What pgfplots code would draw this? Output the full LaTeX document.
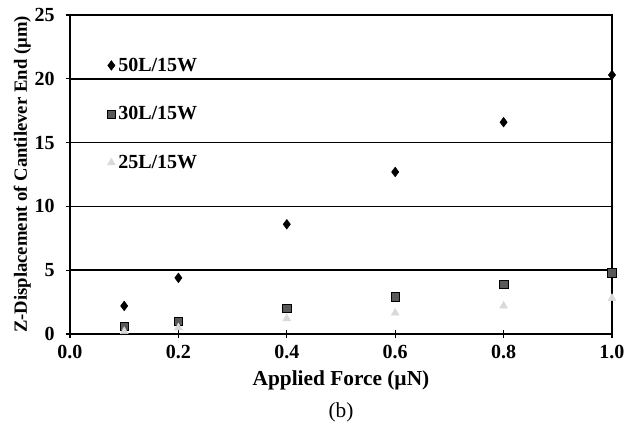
\documentclass[border=0pt]{standalone}
\usepackage{pgfplots}
\pgfplotsset{compat=1.18}
\usepackage{fontspec}
\setmainfont{Liberation Serif}

\begin{document}
\begin{tikzpicture}
\begin{axis}[
    scale only axis,
    width=406.5pt, height=239.25pt,
    xmin=0, xmax=1, ymin=0, ymax=25,
    xtick={0,0.2,0.4,0.6,0.8,1.0},
    ytick={0,5,10,15,20,25},
    xtick pos=bottom, ytick pos=left,
    xticklabel style={yshift=-2pt, /pgf/number format/fixed, /pgf/number format/fixed zerofill, /pgf/number format/precision=1},
    /pgf/number format/assume math mode=true,
    ticklabel style={font=\fontsize{15}{17}\selectfont\bfseries},
    yticklabel style={xshift=-5pt},
    xlabel style={font=\fontsize{16}{18}\selectfont\bfseries, yshift=-2pt},
    ylabel style={font=\fontsize{14}{16}\selectfont\bfseries, yshift=-4pt},
    xlabel={Applied Force (µN)},
    ylabel={Z-Displacement of Cantilever End (µm)},
    tick align=center,
    major tick length=6pt,
    tick style={black, line width=0.9pt},
    ymajorgrids,
    grid style={black, line width=1.3pt},
    axis line style={line width=1.7pt},
    legend style={at={(0.068,0.875)}, anchor=north west, draw=none, fill=none,
        font=\fontsize{15}{17}\selectfont\bfseries, row sep=21pt,
        inner sep=0pt},
    legend cell align=left,
    legend image code/.code={\draw[#1] plot coordinates {(0.05cm,0cm)};},
    clip=false,
]
\addplot[only marks, mark=diamond*, mark size=3.6pt, black] coordinates {
    (0.1,2.2) (0.2,4.4) (0.4,8.6) (0.6,12.7) (0.8,16.6) (1.0,20.3)
};
\addlegendentry{50L/15W}
\addplot[only marks, mark=square*, mark size=3.2pt, draw=black, fill=black!65] coordinates {
    (0.1,0.6) (0.2,1.0) (0.4,2.0) (0.6,2.9) (0.8,3.9) (1.0,4.8)
};
\addlegendentry{30L/15W}
\addplot[only marks, mark=triangle*, mark size=3.4pt, draw=black!15, fill=black!15] coordinates {
    (0.1,0.2) (0.2,0.5) (0.4,1.2) (0.6,1.65) (0.8,2.2) (1.0,2.8)
};
\addlegendentry{25L/15W}
\node[font=\fontsize{16}{18}\selectfont, anchor=north] at (rel axis cs:0.5,0) [yshift=-48pt] {(b)};
\end{axis}
\pgfresetboundingbox
\path[use as bounding box] (-52.5pt,-82.5pt) rectangle (417pt,250.5pt);
\end{tikzpicture}
\end{document}
